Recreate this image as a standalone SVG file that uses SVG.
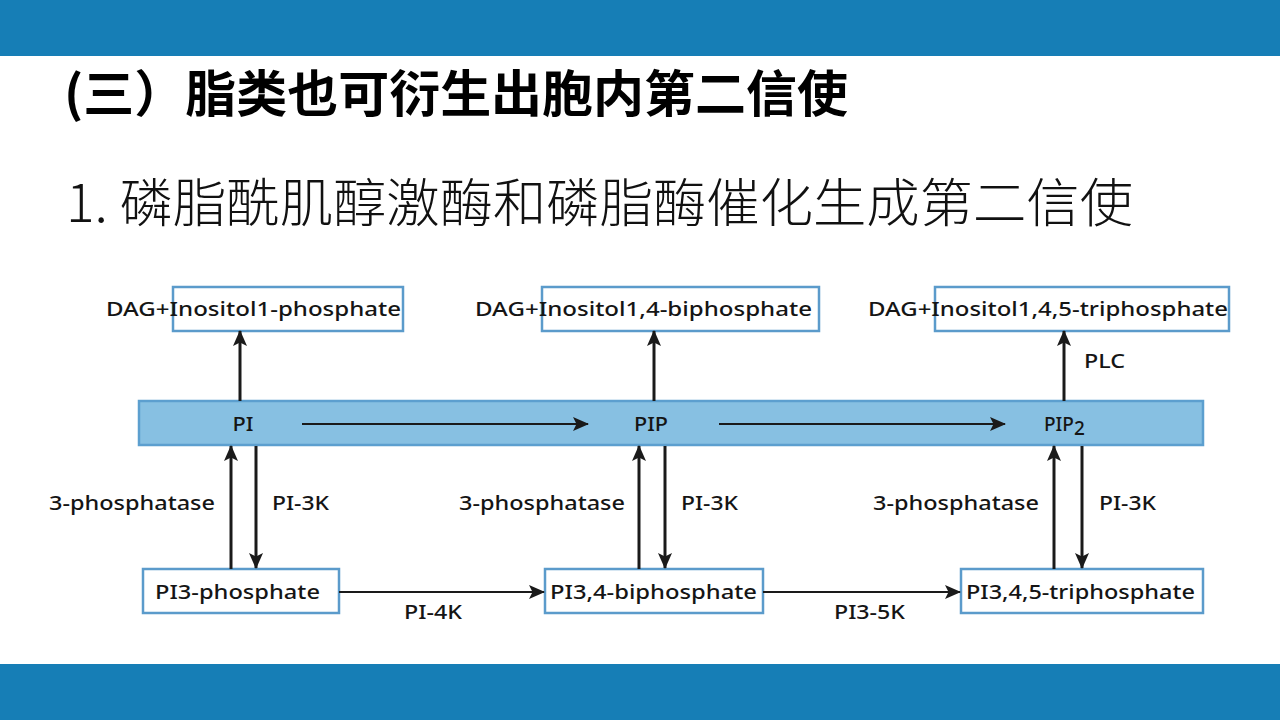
<svg xmlns="http://www.w3.org/2000/svg" width="1280" height="720" viewBox="0 0 1280 720">
<defs>
<marker id="ah" viewBox="0 0 16 14" markerWidth="16" markerHeight="14" refX="15" refY="7" orient="auto" markerUnits="userSpaceOnUse">
<path d="M0,0 L16,7 L0,14 L3.5,7 z" fill="#1a1a1a"/>
</marker>
<style>
.box{fill:#fff;stroke:#5b9bcb;stroke-width:2.5}
.band{fill:#87c0e2;stroke:#5c9fcf;stroke-width:2.5}
.t{font-family:"Noto Sans","Open Sans","Liberation Sans",sans-serif;font-size:19px;font-weight:500;fill:#151515}
.ln{stroke:#1a1a1a;stroke-width:3;fill:none;marker-end:url(#ah)}
.lh{stroke:#1a1a1a;stroke-width:2.2;fill:none;marker-end:url(#ah)}
.bar{fill:#167eb6}
</style>
</defs>
<rect width="1280" height="720" fill="#fff"/>
<rect class="bar" x="0" y="0" width="1280" height="56"/>
<rect class="bar" x="0" y="664" width="1280" height="56"/>
<text x="64" y="112" font-family="'Noto Sans CJK SC','Noto Sans',sans-serif" font-weight="bold" font-size="50" fill="#000" textLength="784" lengthAdjust="spacingAndGlyphs">(三）脂类也可衍生出胞内第二信使</text>
<text x="66" y="222" font-family="'Noto Sans CJK SC','Noto Sans',sans-serif" font-weight="200" font-size="52" fill="#111" textLength="1067" lengthAdjust="spacingAndGlyphs">1. 磷脂酰肌醇激酶和磷脂酶催化生成第二信使</text>

<g id="band">
<rect class="band" x="139" y="401" width="1064" height="44"/>
</g>
<g id="PI"><text class="t" x="243" y="431" text-anchor="middle" font-size="21" textLength="21" lengthAdjust="spacingAndGlyphs">PI</text></g>
<g id="PIP"><text class="t" x="651" y="431" text-anchor="middle" font-size="21" textLength="34" lengthAdjust="spacingAndGlyphs">PIP</text></g>
<g id="PIP2"><text class="t" x="1044" y="431" font-size="21">PIP<tspan dy="4">2</tspan></text></g>

<g id="top1">
<rect class="box" x="173" y="287" width="230" height="44"/>
<text class="t" x="106" y="316" textLength="295" lengthAdjust="spacingAndGlyphs">DAG+Inositol1-phosphate</text>
</g>
<g id="top2">
<rect class="box" x="542" y="287" width="277" height="44"/>
<text class="t" x="475" y="316" textLength="337" lengthAdjust="spacingAndGlyphs">DAG+Inositol1,4-biphosphate</text>
</g>
<g id="top3">
<rect class="box" x="935" y="287" width="294" height="44"/>
<text class="t" x="868" y="316" textLength="360" lengthAdjust="spacingAndGlyphs">DAG+Inositol1,4,5-triphosphate</text>
</g>

<g id="bot1">
<rect class="box" x="143" y="569" width="196" height="44"/>
<text class="t" x="155" y="599" textLength="165" lengthAdjust="spacingAndGlyphs">PI3-phosphate</text>
</g>
<g id="bot2">
<rect class="box" x="545" y="569" width="218" height="44"/>
<text class="t" x="550" y="599" textLength="207" lengthAdjust="spacingAndGlyphs">PI3,4-biphosphate</text>
</g>
<g id="bot3">
<rect class="box" x="961" y="569" width="242" height="44"/>
<text class="t" x="966" y="599" textLength="229" lengthAdjust="spacingAndGlyphs">PI3,4,5-triphosphate</text>
</g>

<g id="connectors">
<line class="lh" x1="302" y1="424" x2="588" y2="424"/>
<line class="lh" x1="719" y1="424" x2="1005" y2="424"/>
<line class="ln" x1="240" y1="401" x2="240" y2="331"/>
<line class="ln" x1="654" y1="401" x2="654" y2="331"/>
<line class="ln" x1="1064" y1="401" x2="1064" y2="331"/>
<line class="ln" x1="231" y1="569" x2="231" y2="446"/>
<line class="ln" x1="256" y1="446" x2="256" y2="568"/>
<line class="ln" x1="639" y1="569" x2="639" y2="446"/>
<line class="ln" x1="665" y1="446" x2="665" y2="568"/>
<line class="ln" x1="1054" y1="569" x2="1054" y2="446"/>
<line class="ln" x1="1082" y1="446" x2="1082" y2="568"/>
<line class="lh" x1="339" y1="592" x2="544" y2="592"/>
<line class="lh" x1="763" y1="592" x2="960" y2="592"/>
</g>
<g id="labels">
<text class="t" x="1084" y="368" textLength="41" lengthAdjust="spacingAndGlyphs">PLC</text>
<text class="t" x="49" y="510" textLength="166" lengthAdjust="spacingAndGlyphs">3-phosphatase</text>
<text class="t" x="272" y="510" textLength="57" lengthAdjust="spacingAndGlyphs">PI-3K</text>
<text class="t" x="459" y="510" textLength="166" lengthAdjust="spacingAndGlyphs">3-phosphatase</text>
<text class="t" x="681" y="510" textLength="57" lengthAdjust="spacingAndGlyphs">PI-3K</text>
<text class="t" x="873" y="510" textLength="166" lengthAdjust="spacingAndGlyphs">3-phosphatase</text>
<text class="t" x="1099" y="510" textLength="57" lengthAdjust="spacingAndGlyphs">PI-3K</text>
<text class="t" x="404" y="619" textLength="58" lengthAdjust="spacingAndGlyphs">PI-4K</text>
<text class="t" x="834" y="619" textLength="71" lengthAdjust="spacingAndGlyphs">PI3-5K</text>
</g>
</svg>
